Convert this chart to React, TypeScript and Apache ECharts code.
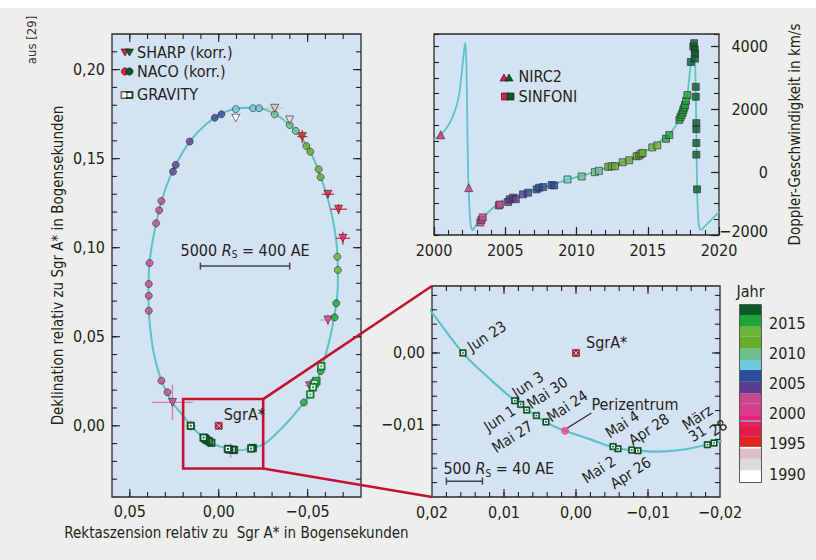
import React, { useEffect, useRef } from 'react';
import * as echarts from 'echarts';

const FONT = "'Liberation Sans Narrow', 'DejaVu Sans Condensed', sans-serif";
const INK = '#231f20';
const PANEL = '#d4e3f3';
const PAGE = '#eeeeec';
const CURVE = '#5cc5bf';
const RED = '#c4122f';

// ---------- colour scale (Jahr)
const bandStart = [1988.7, 1990.66, 1992.6, 1994.26, 1994.53, 1996.19, 1998.13, 1998.68, 1998.96, 1999.79, 2001.73, 2003.39, 2005.32, 2007.26, 2008.92, 2010.85, 2012.79, 2014.45, 2016.38];
const bandEnd = [1990.66, 1992.6, 1994.26, 1994.53, 1996.19, 1998.13, 1998.68, 1998.96, 1999.79, 2001.73, 2003.39, 2005.32, 2007.26, 2008.92, 2010.85, 2012.79, 2014.45, 2016.38, 2018.04];
const bandColors = ['#ffffff', '#dcdcdc', '#dcbfc0', '#ffffff', '#e2261f', '#e21e48', '#e92060', '#9a8a9a', '#ea1f7c', '#d83d8c', '#c8478f', '#5b3d8e', '#2c4b98', '#6ec9da', '#6cbf8f', '#66ad2c', '#6cb43a', '#1ea53a', '#0a5a2b'];
const yearTicks = [1990, 1995, 2000, 2005, 2010, 2015];

// ---------- tick values
const skyTicks = [-0.05, 0, 0.05];
const decTicks = [0, 0.05, 0.1, 0.15, 0.2];
const skyMinorTicks = [-0.07, -0.06, -0.05, -0.04, -0.03, -0.02, -0.01, 0, 0.01, 0.02, 0.03, 0.04, 0.05];
const decMinorTicks = [-0.03, -0.02, -0.01, 0, 0.01, 0.02, 0.03, 0.04, 0.05, 0.06, 0.07, 0.08, 0.09, 0.1, 0.11, 0.12, 0.13, 0.14, 0.15, 0.16, 0.17, 0.18, 0.19, 0.2, 0.21];
const zoomXTicks = [-0.02, -0.01, 0, 0.01, 0.02];
const zoomYTicks = [-0.01, 0];
const zoomXMinorTicks = [-0.018, -0.016, -0.014, -0.012, -0.01, -0.008, -0.006, -0.004, -0.002, 0, 0.002, 0.004, 0.006, 0.008, 0.01, 0.012, 0.014, 0.016, 0.018];
const zoomYMinorTicks = [-0.018, -0.016, -0.014, -0.012, -0.01, -0.008, -0.006, -0.004, -0.002, 0, 0.002, 0.004, 0.006, 0.008];
const yearAxisTicks = [2000, 2005, 2010, 2015, 2020];
const velTicks = [-2000, 0, 2000, 4000];

// ---------- orbit on the sky (arcsec)
const orbitRA = [-0.0190, -0.0150, -0.0110, -0.0080, -0.0055, -0.0020, 0.0015, 0.0042, 0.0085, 0.0123, 0.0157, 0.0200, 0.0260, 0.0322, 0.0365, 0.0390, 0.0395, 0.0389, 0.0352, 0.0300, 0.0242, 0.0163, 0.0070, -0.0030, -0.0120, -0.0200, -0.0280, -0.0360, -0.0433, -0.0515, -0.0573, -0.0620, -0.0652, -0.0668, -0.0670, -0.0660, -0.0627, -0.0573, -0.0515, -0.0437, -0.0380, -0.0324, -0.0258, -0.0190];
const orbitDec = [-0.0125, -0.0134, -0.0137, -0.0135, -0.0132, -0.0120, -0.0108, -0.0096, -0.0066, -0.0033, 0.0000, 0.0056, 0.0131, 0.0253, 0.0407, 0.0600, 0.0750, 0.0914, 0.1137, 0.1330, 0.1465, 0.1596, 0.1695, 0.1760, 0.1785, 0.1787, 0.1768, 0.1722, 0.1656, 0.1539, 0.1396, 0.1250, 0.1100, 0.0950, 0.0800, 0.0680, 0.0500, 0.0307, 0.0176, 0.0079, 0.0013, -0.0043, -0.0100, -0.0125];

const nacoRA = [-0.0015, 0.0022, 0.0163, 0.0242, 0.0257, 0.0322, 0.0335, 0.0352, 0.0389, 0.0393, 0.0393, 0.0393, 0.0322, 0.0288, -0.0096, -0.0193, -0.0227, -0.0315, -0.0399, -0.0433, -0.0493, -0.0515, -0.0562, -0.0573, -0.0667, -0.0670, -0.0661, -0.0652, -0.0573, -0.0479];
const nacoDec = [0.1749, 0.1730, 0.1596, 0.1465, 0.1427, 0.1262, 0.1210, 0.1137, 0.0914, 0.0796, 0.0730, 0.0646, 0.0253, 0.0188, 0.1778, 0.1783, 0.1783, 0.1749, 0.1689, 0.1656, 0.1571, 0.1539, 0.1440, 0.1396, 0.0949, 0.0875, 0.0688, 0.0609, 0.0307, 0.0131];
const nacoBand = [12, 12, 11, 11, 11, 10, 10, 10, 10, 10, 10, 10, 10, 10, 13, 13, 13, 14, 14, 14, 15, 15, 15, 15, 16, 16, 17, 17, 17, 17];

const sharpRA = [-0.0096, -0.0315, -0.0399, -0.0470, -0.0614, -0.0674, -0.0698, -0.0614, -0.0511, 0.0260];
const sharpDec = [0.1727, 0.1783, 0.1717, 0.1624, 0.1300, 0.1216, 0.1053, 0.0594, 0.0225, 0.0131];
const sharpBand = [0, 2, 1, 4, 5, 5, 6, 9, 9, 10];
const sharpErrRA = [0.0030, 0.0047, 0.0033, 0.0028, 0.0035, 0.0047, 0.0040, 0.0042, 0.0025, 0.0114];
const sharpErrDec = [0.0037, 0.0010, 0.0037, 0.0037, 0.0010, 0.0028, 0.0037, 0.0033, 0.0033, 0.0100];

const keckErrRA = [0.0157, -0.0067];
const keckErrDec = [0.0, -0.0140];
const keckErrDRA = [0.0028, 0.0023];
const keckErrDDec = [0.0030, 0.0040];

const grav17RA = [-0.0577, -0.0549, -0.0539, -0.0530, -0.0515];
const grav17Dec = [0.0334, 0.0251, 0.0238, 0.0216, 0.0176];

const gravLabels = ['28', '31', 'Apr 26', 'Apr 28', 'Mai 2', 'Mai 4', 'Mai 24', 'Mai 27', 'Mai 30', 'Jun 1', 'Jun 3', 'Jun 23'];
const gravRA = [-0.01917, -0.01825, -0.0086, -0.00774, -0.00583, -0.00514, 0.00417, 0.0055, 0.00685, 0.00768, 0.00851, 0.0157];
const gravDec = [-0.0125, -0.01274, -0.01357, -0.01347, -0.0133, -0.0130, -0.00958, -0.0087, -0.00792, -0.00714, -0.00663, 0.0];

const periRA = [0.00153];
const periDec = [-0.0108];
const sgrRA = [0];
const sgrDec = [0];

// ---------- radial velocity (km/s)
const velYear = [2000.0, 2000.5, 2001.1, 2001.57, 2001.81, 2002.04, 2002.15, 2002.21, 2002.27, 2002.32, 2002.36, 2002.41, 2002.46, 2002.52, 2002.6, 2002.7, 2002.85, 2003.1, 2003.56, 2004.03, 2004.6, 2005.08, 2006.0, 2006.7, 2008.1, 2009.3, 2010.47, 2011.4, 2012.6, 2013.8, 2014.7, 2015.39, 2016.33, 2016.68, 2017.15, 2017.5, 2017.78, 2017.97, 2018.1, 2018.2, 2018.27, 2018.33, 2018.37, 2018.41, 2018.44, 2018.47, 2018.52, 2018.58, 2018.68, 2018.8, 2019.02, 2019.49, 2020.0];
const velV = [1040, 1200, 1560, 2090, 2620, 3570, 4000, 4120, 3500, 2200, 800, -300, -850, -1400, -1760, -1840, -1760, -1600, -1390, -1180, -970, -840, -700, -600, -420, -250, -100, 30, 210, 400, 630, 825, 1150, 1300, 1620, 1984, 2455, 3250, 3750, 4060, 4130, 3400, 2500, 1300, 200, -650, -1300, -1650, -1830, -1820, -1714, -1500, -1270];

const sinfYear = [2003.25, 2003.33, 2003.42, 2004.55, 2004.62, 2005.2, 2005.32, 2005.55, 2005.74, 2006.25, 2006.6, 2007.2, 2007.38, 2007.66, 2008.25, 2008.43, 2009.37, 2010.36, 2011.29, 2011.57, 2012.23, 2012.47, 2012.7, 2013.24, 2013.7, 2014.22, 2014.4, 2014.52, 2014.64, 2015.32, 2015.67, 2016.28, 2016.51, 2017.22, 2017.3, 2017.38, 2017.45, 2017.5, 2017.57, 2017.62, 2017.69, 2017.78, 2018.02, 2018.2, 2018.25, 2018.3, 2018.31, 2018.31, 2018.37, 2018.37, 2018.41, 2018.41, 2018.41, 2018.41, 2018.46];
const sinfV = [-1600, -1520, -1440, -1060, -1031, -948, -863, -810, -863, -705, -652, -547, -494, -474, -411, -420, -231, -136, 0, 44, 171, 190, 190, 316, 379, 506, 528, 581, 613, 790, 853, 1065, 1182, 1665, 1750, 1823, 1900, 1984, 2060, 2139, 2275, 2455, 3508, 4004, 4108, 3900, 3773, 3615, 2718, 2402, 1561, 1371, 929, 559, -547];
const sinfBand = [10, 10, 10, 10, 10, 11, 11, 11, 11, 11, 12, 12, 12, 12, 12, 12, 13, 14, 14, 14, 15, 15, 15, 15, 15, 15, 15, 15, 15, 16, 16, 17, 17, 17, 17, 17, 17, 17, 17, 17, 17, 17, 18, 18, 18, 18, 18, 18, 18, 18, 18, 18, 18, 18, 18];

const nircYear = [2000.47, 2002.44];
const nircV = [1191, -493];
const nircBand = [8, 9];

// ---------- layout of annotations (pixels / data anchors)
const gravLabelDx = [4.4, -10, -7.3, 17.3, -19, 9.4, 21.4, -24, 20.7, -21, 13.3, 24];
const gravLabelDy = [-15, -11, 22.3, -20.3, 21, -22, -15.6, 21.3, -17, 14.3, -16, -16.6];
const zoomBoxRA = [0.02, -0.025];
const zoomBoxDec = [-0.024, 0.015];
const bigBarRA = [0.0103, -0.0399];
const bigBarDec = 0.0897;
const smallBarRA = [0.018, 0.013];
const smallBarDec = -0.0178;

const SKY_X = [-0.08, 0.06];
const SKY_Y = [-0.04, 0.22];
const ZOOM_X = [-0.02, 0.02];
const ZOOM_Y = [-0.02, 0.0093];

const dec2 = (v: number) => (v < -1e-9 ? '\u2212' : '') + Math.abs(v).toFixed(2).replace('.', ',');
const intLabel = (v: number) => (v < 0 ? '\u2212' : '') + Math.abs(Math.round(v));

const labelBase = { color: INK, fontFamily: FONT, fontSize: 16 };
const nameStyle = { color: INK, fontFamily: FONT, fontSize: 15 };
const minorTick = { show: true, inside: true, interval: 0, length: 5, lineStyle: { color: '#222', width: 1.1 } };

function majorAxis(grid: number, min: number, max: number, values: number[], fmt: (v: number) => string, extra: any, ticks = true) {
  return {
    type: 'value', gridIndex: grid, min, max,
    splitLine: { show: false },
    axisLine: { show: false, onZero: false },
    axisTick: { show: ticks, inside: true, interval: 0, length: 8, customValues: values, lineStyle: { color: '#222', width: 1.2 } },
    ...extra,
    axisLabel: { ...labelBase, interval: 0, customValues: values, formatter: fmt, ...(extra.axisLabel || {}) },
  };
}
function minorAxis(grid: number, min: number, max: number, interval: number, position: string, extra: any = {}) {
  return {
    type: 'value', gridIndex: grid, min, max, interval, position,
    splitLine: { show: false },
    axisLine: { show: false, onZero: false },
    axisTick: minorTick,
    axisLabel: { show: false, interval: 0 },
    ...extra,
  };
}

function crossRender(dx: number[], dy: number[], colors: string[]) {
  return (params: any, api: any) => {
    const i = params.dataIndex;
    const x = api.value(0);
    const y = api.value(1);
    const a = api.coord([x - dx[i], y]);
    const b = api.coord([x + dx[i], y]);
    const c = api.coord([x, y - dy[i]]);
    const d = api.coord([x, y + dy[i]]);
    return {
      type: 'group',
      children: [
        { type: 'line', shape: { x1: a[0], y1: a[1], x2: b[0], y2: b[1] }, style: { stroke: colors[i], lineWidth: 1.3 } },
        { type: 'line', shape: { x1: c[0], y1: c[1], x2: d[0], y2: d[1] }, style: { stroke: colors[i], lineWidth: 1.3 } },
      ],
    };
  };
}

function gravRender(size: number) {
  return (params: any, api: any) => {
    const p = api.coord([api.value(0), api.value(1)]);
    const c = bandColors[api.value(2)];
    const s = size;
    const w = size * 0.58;
    const d = size * 0.26;
    return {
      type: 'group',
      children: [
        { type: 'rect', shape: { x: p[0] - s / 2, y: p[1] - s / 2, width: s, height: s }, style: { fill: c, stroke: '#0b3d1d', lineWidth: 0.6 } },
        { type: 'rect', shape: { x: p[0] - w / 2, y: p[1] - w / 2, width: w, height: w }, style: { fill: '#ffffff' } },
        { type: 'rect', shape: { x: p[0] - d / 2, y: p[1] - d / 2, width: d, height: d }, style: { fill: c } },
      ],
    };
  };
}

const sgrRender = (params: any, api: any) => {
  const p = api.coord([api.value(0), api.value(1)]);
  const s = 7;
  const h = 2.4;
  return {
    type: 'group',
    children: [
      { type: 'rect', shape: { x: p[0] - s / 2, y: p[1] - s / 2, width: s, height: s }, style: { fill: '#a8233a', stroke: '#7a1020', lineWidth: 0.6 } },
      { type: 'line', shape: { x1: p[0] - h, y1: p[1] - h, x2: p[0] + h, y2: p[1] + h }, style: { stroke: '#f2b8c4', lineWidth: 1 } },
      { type: 'line', shape: { x1: p[0] - h, y1: p[1] + h, x2: p[0] + h, y2: p[1] - h }, style: { stroke: '#f2b8c4', lineWidth: 1 } },
    ],
  };
};

const bandRender = (params: any, api: any) => {
  const p0 = api.coord([0, api.value(0)]);
  const p1 = api.coord([1, api.value(1)]);
  return {
    type: 'rect',
    shape: { x: p0[0], y: p1[1], width: p1[0] - p0[0], height: p0[1] - p1[1] },
    style: { fill: bandColors[api.value(2)] },
  };
};

function buildOption(): any {
  const gridStyle = { show: true, backgroundColor: PANEL, borderColor: '#2a2a2a', borderWidth: 1.3 };
  return {
    animation: false,
    backgroundColor: PAGE,
    grid: [
      { left: 112, top: 34, width: 249, height: 463, ...gridStyle },
      { left: 434, top: 34, width: 285, height: 201, ...gridStyle },
      { left: 432, top: 286, width: 288, height: 211, ...gridStyle },
      { left: 740, top: 305, width: 21, height: 177, ...gridStyle, borderWidth: 1.5 },
    ],
    xAxis: [
      majorAxis(0, SKY_X[0], SKY_X[1], skyTicks, dec2, {
        inverse: true, position: 'bottom', axisLabel: { margin: 6 },
        name: 'Rektaszension relativ zu  Sgr A* in Bogensekunden', nameLocation: 'middle', nameGap: 28, nameTextStyle: nameStyle,
      }, false),
      majorAxis(1, 2000, 2020, yearAxisTicks, (v: number) => String(Math.round(v)), { position: 'bottom', axisLabel: { margin: 7 } }),
      minorAxis(1, 2000, 2020, 1, 'bottom'),
      majorAxis(2, ZOOM_X[0], ZOOM_X[1], zoomXTicks, dec2, { inverse: true, position: 'bottom', axisLabel: { margin: 7 } }, false),
      { gridIndex: 3, type: 'value', min: 0, max: 1, show: false },
    ],
    yAxis: [
      majorAxis(0, SKY_Y[0], SKY_Y[1], decTicks, dec2, {
        position: 'left', axisLabel: { margin: 7 },
        name: 'Deklination relativ zu Sgr A* in Bogensekunden', nameLocation: 'middle', nameGap: 47, nameTextStyle: nameStyle,
      }, false),
      majorAxis(1, -2000, 4400, velTicks, (v: number) => (v < -1 ? '{lo|' + intLabel(v) + '}' : intLabel(v)), {
        position: 'right',
        axisLabel: { margin: 49, align: 'right', rich: { lo: { fontFamily: FONT, fontSize: 16, color: INK, padding: [0, 0, 8, 0] } } },
        name: 'Doppler-Geschwindigkeit in km/s', nameLocation: 'middle', nameGap: 68, nameRotate: 90, nameTextStyle: nameStyle,
      }),
      minorAxis(1, -2000, 4400, 500, 'right'),
      minorAxis(1, -2000, 4400, 500, 'left'),
      majorAxis(2, ZOOM_Y[0], ZOOM_Y[1], zoomYTicks, dec2, { position: 'left', axisLabel: { margin: 7 } }, false),
      {
        gridIndex: 3, type: 'value', min: 1988.7, max: 2018.04, position: 'right',
        splitLine: { show: false }, axisLine: { show: false, onZero: false }, axisTick: { show: false },
        axisLabel: {
          ...labelBase, margin: 8, customValues: yearTicks,
          formatter: (v: number) => (Math.abs(v - Math.round(v)) < 1e-6 && Math.round(v) % 5 === 0 ? String(Math.round(v)) : ''),
        },
      },
    ],
    series: [
      // left panel
      {
        type: 'line', xAxisIndex: 0, yAxisIndex: 0, smooth: 0.4, showSymbol: false, z: 2,
        lineStyle: { color: CURVE, width: 2 }, data: orbitRA.map((x, i) => [x, orbitDec[i]]),
      },
      {
        type: 'custom', xAxisIndex: 0, yAxisIndex: 0, z: 3, encode: { x: 0, y: 1 },
        renderItem: crossRender(keckErrDRA, keckErrDDec, keckErrRA.map(() => '#e07aae')),
        data: keckErrRA.map((x, i) => [x, keckErrDec[i]]),
      },
      {
        type: 'custom', xAxisIndex: 0, yAxisIndex: 0, z: 3, encode: { x: 0, y: 1 },
        renderItem: crossRender(sharpErrRA, sharpErrDec, sharpBand.map((b) => (b === 10 ? '#e07aae' : b === 9 ? '#e890bb' : bandColors[b]))),
        data: sharpRA.map((x, i) => [x, sharpDec[i]]),
      },
      {
        type: 'scatter', xAxisIndex: 0, yAxisIndex: 0, symbol: 'circle', symbolSize: 7, z: 4,
        data: nacoRA.map((x, i) => ({ value: [x, nacoDec[i]], itemStyle: { color: bandColors[nacoBand[i]] } })),
        itemStyle: { borderColor: '#2a2a2a', borderWidth: 0.8 },
      },
      {
        type: 'scatter', xAxisIndex: 0, yAxisIndex: 0, symbol: 'triangle', symbolRotate: 180, symbolSize: 8, z: 5,
        data: sharpRA.map((x, i) => ({ value: [x, sharpDec[i]], itemStyle: { color: bandColors[sharpBand[i]] } })),
        itemStyle: { borderColor: '#2a2a2a', borderWidth: 0.8 },
      },
      {
        type: 'custom', xAxisIndex: 0, yAxisIndex: 0, z: 6, encode: { x: 0, y: 1 }, renderItem: gravRender(7.5),
        data: grav17RA.map((x, i) => [x, grav17Dec[i], 17]).concat(gravRA.map((x, i) => [x, gravDec[i], 18])),
      },
      {
        type: 'custom', xAxisIndex: 0, yAxisIndex: 0, z: 6, encode: { x: 0, y: 1 }, renderItem: sgrRender,
        data: sgrRA.map((x, i) => [x, sgrDec[i]]),
      },
      // velocity panel
      {
        type: 'line', xAxisIndex: 1, yAxisIndex: 1, smooth: 0.2, showSymbol: false, z: 2,
        lineStyle: { color: CURVE, width: 1.8 }, data: velYear.map((x, i) => [x, velV[i]]),
      },
      {
        type: 'scatter', xAxisIndex: 1, yAxisIndex: 1, symbol: 'rect', symbolSize: 7, z: 4,
        data: sinfYear.map((x, i) => ({ value: [x, sinfV[i]], itemStyle: { color: bandColors[sinfBand[i]] } })),
        itemStyle: { borderColor: '#2a2a2a', borderWidth: 0.8 },
      },
      {
        type: 'scatter', xAxisIndex: 1, yAxisIndex: 1, symbol: 'triangle', symbolSize: 8, z: 4,
        data: nircYear.map((x, i) => ({ value: [x, nircV[i]], itemStyle: { color: bandColors[nircBand[i]] } })),
        itemStyle: { borderColor: '#2a2a2a', borderWidth: 0.8 },
      },
      // zoom panel
      {
        type: 'line', xAxisIndex: 3, yAxisIndex: 4, smooth: 0.4, showSymbol: false, z: 2,
        lineStyle: { color: CURVE, width: 2.2 }, data: orbitRA.map((x, i) => [x, orbitDec[i]]),
      },
      {
        type: 'custom', xAxisIndex: 3, yAxisIndex: 4, z: 6, encode: { x: 0, y: 1 }, renderItem: gravRender(6.5),
        data: gravRA.map((x, i) => [x, gravDec[i], 18]),
      },
      {
        type: 'custom', xAxisIndex: 3, yAxisIndex: 4, z: 6, encode: { x: 0, y: 1 }, renderItem: sgrRender,
        data: sgrRA.map((x, i) => [x, sgrDec[i]]),
      },
      {
        type: 'scatter', xAxisIndex: 3, yAxisIndex: 4, symbol: 'circle', symbolSize: 8, z: 6,
        itemStyle: { color: '#e8408a' }, data: periRA.map((x, i) => [x, periDec[i]]),
      },
      // colour bar
      {
        type: 'custom', xAxisIndex: 4, yAxisIndex: 5, z: 2, renderItem: bandRender, encode: { y: [0, 1] },
        data: bandStart.map((s, i) => [s, bandEnd[i], i]),
      },
    ],
  };
}

function text(x: number, y: number, t: string, o: any = {}) {
  return {
    type: 'text', x, y, z: 100, rotation: o.rot || 0,
    style: {
      text: t, fill: o.fill || INK, fontFamily: FONT, fontSize: o.size || 15,
      align: o.align || 'left', verticalAlign: o.va || 'middle', rich: o.rich,
    },
  };
}
function seg(x1: number, y1: number, x2: number, y2: number, stroke: string, w: number) {
  return { type: 'line', z: 100, shape: { x1, y1, x2, y2 }, style: { stroke, lineWidth: w } };
}

// inward frame ticks on four sides, positioned through the axes' scales
function frameTicks(p: (x: number, y: number) => number[], xr: number[], yr: number[], xMinor: number[], xMajor: number[], yMinor: number[], yMajor: number[]) {
  const out: any[] = [];
  const xt = (v: number, len: number) => {
    const a = p(v, yr[0]);
    const b = p(v, yr[1]);
    const lo = Math.max(a[1], b[1]);
    const hi = Math.min(a[1], b[1]);
    out.push(seg(a[0], lo, a[0], lo - len, '#222', 1.1), seg(a[0], hi, a[0], hi + len, '#222', 1.1));
  };
  const yt = (v: number, len: number) => {
    const a = p(xr[0], v);
    const b = p(xr[1], v);
    const l = Math.min(a[0], b[0]);
    const r = Math.max(a[0], b[0]);
    out.push(seg(l, a[1], l + len, a[1], '#222', 1.1), seg(r, a[1], r - len, a[1], '#222', 1.1));
  };
  xMinor.forEach((v) => xt(v, 5));
  xMajor.forEach((v) => xt(v, 8));
  yMinor.forEach((v) => yt(v, 5));
  yMajor.forEach((v) => yt(v, 8));
  return out;
}

function buildGraphics(chart: any): any[] {
  const p0 = (x: number, y: number) => chart.convertToPixel({ xAxisIndex: 0, yAxisIndex: 0 }, [x, y]) as number[];
  const p2 = (x: number, y: number) => chart.convertToPixel({ xAxisIndex: 3, yAxisIndex: 4 }, [x, y]) as number[];
  const g: any[] = [];
  g.push({ type: 'rect', z: 100, shape: { x: 0, y: 0, width: 816, height: 8 }, style: { fill: '#ffffff' } });
  g.push(text(31.5, 40, 'aus [29]', { rot: Math.PI / 2, size: 13, align: 'center', fill: '#333' }));

  g.push(...frameTicks(p0, SKY_X, SKY_Y, skyMinorTicks, skyTicks, decMinorTicks, decTicks));
  g.push(...frameTicks(p2, ZOOM_X, ZOOM_Y, zoomXMinorTicks, [-0.01, 0, 0.01], zoomYMinorTicks, zoomYTicks));

  // legend left
  const triDown = (cx: number, cy: number, fill: string) => ({ type: 'polygon', z: 100, shape: { points: [[cx - 4, cy - 3.5], [cx + 4, cy - 3.5], [cx, cy + 3.5]] }, style: { fill, stroke: '#222', lineWidth: 0.7 } });
  const triUp = (cx: number, cy: number, fill: string) => ({ type: 'polygon', z: 100, shape: { points: [[cx - 4, cy + 3.5], [cx + 4, cy + 3.5], [cx, cy - 3.5]] }, style: { fill, stroke: '#222', lineWidth: 0.7 } });
  const circ = (cx: number, cy: number, fill: string) => ({ type: 'circle', z: 100, shape: { cx, cy, r: 3.6 }, style: { fill, stroke: '#222', lineWidth: 0.7 } });
  const sq = (cx: number, cy: number, fill: string, hollow: boolean) => {
    const arr: any[] = [{ type: 'rect', z: 100, shape: { x: cx - 3.5, y: cy - 3.5, width: 7, height: 7 }, style: { fill, stroke: '#222', lineWidth: 0.7 } }];
    if (hollow) arr.push({ type: 'rect', z: 101, shape: { x: cx - 2, y: cy - 2, width: 4, height: 4 }, style: { fill: '#fff' } });
    return arr;
  };
  g.push(triDown(125, 52.5, '#e21e48'), triDown(129.5, 52.5, '#0a5a2b'));
  g.push(circ(125, 71.5, '#e21e48'), circ(129.5, 71.5, '#0a5a2b'));
  g.push(...sq(124.5, 95, '#e8a0a8', true), ...sq(129.5, 95, '#0a5a2b', true));
  g.push(text(137, 52.7, 'SHARP (korr.)', { size: 16 }), text(137, 71.7, 'NACO (korr.)', { size: 16 }), text(137, 94.5, 'GRAVITY', { size: 16 }));

  // legend velocity
  g.push(triUp(504, 77.5, '#e21e48'), triUp(509, 77.5, '#0a5a2b'));
  g.push(...sq(505, 96.5, '#e21e48', false), ...sq(510.5, 96.5, '#0a5a2b', false));
  g.push(text(518.5, 76.7, 'NIRC2', { size: 16 }), text(518.5, 96, 'SINFONI', { size: 16 }));

  const rich = { i: { fontFamily: FONT, fontSize: 16, fontStyle: 'italic', fill: INK }, s: { fontFamily: FONT, fontSize: 10, fill: INK, padding: [9, 0, 0, 0] } };

  // big scale bar
  const b1 = p0(bigBarRA[0], bigBarDec);
  const b2 = p0(bigBarRA[1], bigBarDec);
  g.push(seg(b1[0], b1[1], b2[0], b2[1], '#444', 1.5), seg(b1[0], b1[1] - 3.5, b1[0], b1[1] + 3.5, '#444', 1.5), seg(b2[0], b2[1] - 3.5, b2[0], b2[1] + 3.5, '#444', 1.5));
  g.push(text((b1[0] + b2[0]) / 2, b1[1] - 16, '5000 {i|R}{s|S} = 400 AE', { align: 'center', rich, size: 16 }));

  // small scale bar
  const s1 = p2(smallBarRA[0], smallBarDec);
  const s2 = p2(smallBarRA[1], smallBarDec);
  g.push(seg(s1[0], s1[1], s2[0], s2[1], '#444', 1.5), seg(s1[0], s1[1] - 3.5, s1[0], s1[1] + 3.5, '#444', 1.5), seg(s2[0], s2[1] - 3.5, s2[0], s2[1] + 3.5, '#444', 1.5));
  g.push(text(s1[0] - 3, s1[1] - 12.5, '500 {i|R}{s|S} = 40 AE', { rich, size: 16 }));

  // SgrA* labels
  const q0 = p0(sgrRA[0], sgrDec[0]);
  g.push(text(q0[0] + 5, q0[1] - 11, 'SgrA*', { size: 16 }));
  const q2 = p2(sgrRA[0], sgrDec[0]);
  g.push(text(q2[0] + 10, q2[1] - 10.6, 'SgrA*', { size: 16 }));

  // pericentre
  const pc = p2(periRA[0], periDec[0]);
  g.push(seg(pc[0] + 2.4, pc[1] - 2.7, pc[0] + 26.4, pc[1] - 17.7, '#222', 1.1));
  g.push(text(pc[0] + 26.4, pc[1] - 26, 'Perizentrum', { size: 16 }));

  // date labels
  const rot = (33 * Math.PI) / 180;
  gravLabels.forEach((lab, i) => {
    const p = p2(gravRA[i], gravDec[i]);
    g.push(text(p[0] + gravLabelDx[i], p[1] + gravLabelDy[i], lab, { rot, align: 'center', size: 15 }));
  });
  const m31 = p2(gravRA[1], gravDec[1]);
  g.push(text(m31[0] - 10, m31[1] - 27, 'M\u00e4rz', { rot, align: 'center', size: 15 }));

  // zoom box + connectors
  const c1 = p0(zoomBoxRA[0], zoomBoxDec[1]);
  const c2 = p0(zoomBoxRA[1], zoomBoxDec[0]);
  g.push({ type: 'rect', z: 90, shape: { x: c1[0], y: c1[1], width: c2[0] - c1[0], height: c2[1] - c1[1] }, style: { fill: 'none', stroke: RED, lineWidth: 2.6 } });
  const z1 = p2(ZOOM_X[1], ZOOM_Y[1]);
  const z2 = p2(ZOOM_X[1], ZOOM_Y[0]);
  g.push(seg(c2[0], c1[1], z1[0], z1[1], RED, 2.6), seg(c2[0], c2[1], z2[0], z2[1], RED, 2.6));

  g.push(text(750.5, 291.7, 'Jahr', { align: 'center', size: 16 }));
  return g;
}

export default function App() {
  const ref = useRef<HTMLDivElement>(null);
  useEffect(() => {
    if (!ref.current) return;
    const chart = echarts.init(ref.current, undefined, { renderer: 'svg' });
    chart.setOption(buildOption());
    chart.setOption({ graphic: buildGraphics(chart) });
    return () => chart.dispose();
  }, []);
  return <div ref={ref} style={{ position: 'fixed', left: 0, top: 0, width: 816, height: 560 }} />;
}
